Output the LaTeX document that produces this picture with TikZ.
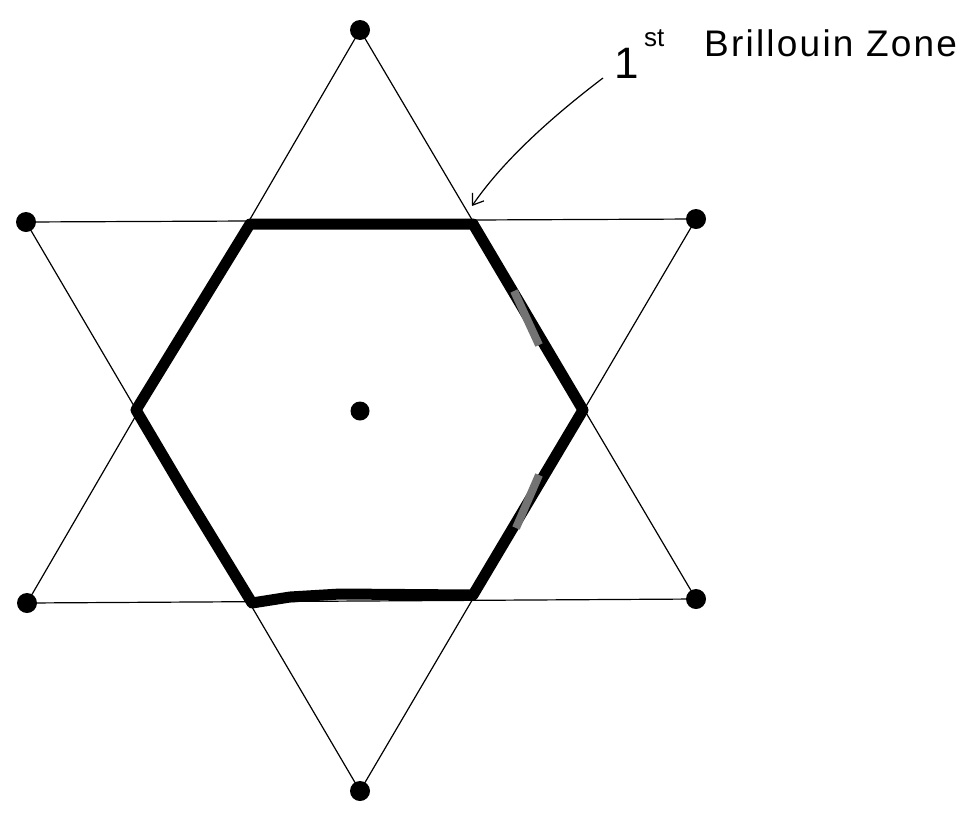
\documentclass[tikz,border=0pt]{standalone}
\usepackage{fontspec}
\setmainfont{Liberation Sans}
\usetikzlibrary{arrows.meta}
\begin{document}
\begin{tikzpicture}[x=1pt,y=-1pt,
  dot/.style={circle,fill=black,inner sep=0pt,minimum size=20pt},
  thin line/.style={line width=1.2pt,black},
  zone/.style={line width=11pt,black,line join=round,line cap=round},
  patch/.style={line width=8pt,black!55},
  lbl/.style={inner sep=0pt,anchor=base west}]
\useasboundingbox (0,0) rectangle (973,814);
% lattice points
\node[dot] (t)  at (360,30) {};
\node[dot] (ul) at (26,222) {};
\node[dot] (ur) at (696,219) {};
\node[dot] (ll) at (27,603) {};
\node[dot] (lr) at (696,599) {};
\node[dot] (b)  at (360,791) {};
\node[dot,minimum size=19pt] (c) at (360,411) {};
% triangles
\draw[thin line] (t.center) -- (ll.center) -- (lr.center) -- cycle;
\draw[thin line] (ul.center) -- (ur.center) -- (b.center) -- cycle;
% hexagon (first Brillouin zone)
\coordinate (h1) at (250,224);
\coordinate (h2) at (473,224);
\coordinate (h3) at (583,410);
\coordinate (h4) at (473,595);
\coordinate (h5) at (252,603);
\coordinate (h6) at (136,410);
\draw[zone] (h1) -- (h2) -- (h3) -- (h4) -- (340,594) -- (290,597) -- (h5) -- (185,493) -- (h6) -- cycle;
\draw[patch] (514,291) -- (539,345);
\draw[patch] (539,475) -- (516,528);
% label
\node[lbl,font=\fontsize{44}{44}\selectfont] (one) at (614,78) {1};
\node[lbl,font=\fontsize{26}{26}\selectfont] (st) at (644,46) {st};
\node[lbl,font=\fontsize{37}{37}\selectfont\addfontfeatures{LetterSpace=6}] (txt) at (704,56) {Brillouin Zone};
\coordinate (tail) at (603,78);
\coordinate (tip) at (472,206);
\draw[line width=1.2pt,-{Straight Barb[length=10pt,width=14pt]}] (tail) .. controls (545,122) and (500,165) .. (tip);
\end{tikzpicture}
\end{document}
